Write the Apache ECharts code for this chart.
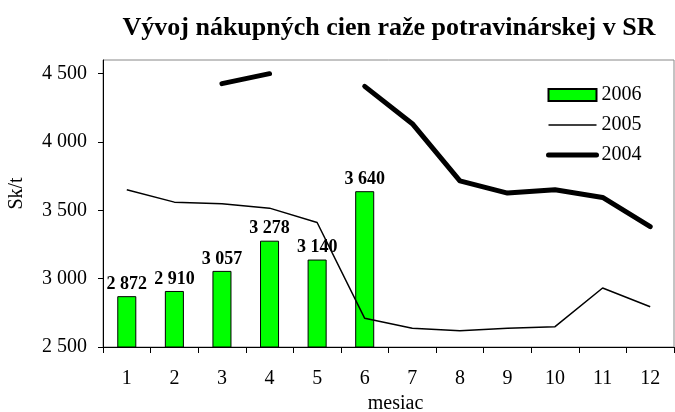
<!DOCTYPE html>
<html>
<head>
<meta charset="utf-8">
<script src="https://cdn.jsdelivr.net/npm/echarts@6/dist/echarts.min.js"></script>
<style>
  html, body { margin: 0; padding: 0; background: #fff; }
  #chart { width: 675px; height: 412px; }
</style>
</head>
<body>
<div id="chart"></div>
<script>
const months = ['1', '2', '3', '4', '5', '6', '7', '8', '9', '10', '11', '12'];
const prices2006 = [2872, 2910, 3057, 3278, 3140, 3640, null, null, null, null, null, null];
const prices2005 = [3650, 3560, 3548, 3516, 3411, 2710, 2637, 2619, 2637, 2649, 2932, 2795];
const prices2004 = [null, null, 4427, 4500, null, 4407, 4134, 3716, 3626, 3650, 3594, 3381];
const yTicks = [2500, 3000, 3500, 4000, 4500];

const serif = 'Liberation Serif, Times New Roman, serif';

// "4500" -> "4 500"
function fmt(v) {
  return String(v).replace(/\B(?=(\d{3})+(?!\d))/g, ' ');
}

const chart = echarts.init(document.getElementById('chart'));

chart.setOption({
  animation: false,
  title: {
    text: 'Vývoj nákupných cien raže potravinárskej v SR',
    left: 384,
    textAlign: 'center',
    top: 10,
    textStyle: {
      fontFamily: serif,
      fontWeight: 'bold',
      fontSize: 26,
      color: '#000',
    },
  },
  legend: {
    orient: 'vertical',
    left: 541,
    top: 80,
    itemWidth: 48,
    itemHeight: 12,
    itemGap: 10,
    data: [
      { name: '2006', icon: 'rect' },
      { name: '2005', itemStyle: { color: 'rgba(0,0,0,0)', borderWidth: 0 }, lineStyle: { width: 1.5 } },
      { name: '2004', itemStyle: { color: 'rgba(0,0,0,0)', borderWidth: 0 }, lineStyle: { width: 5, cap: 'round' } },
    ],
    textStyle: {
      fontFamily: serif,
      fontSize: 20,
      lineHeight: 20,
      color: '#000',
    },
  },
  grid: {
    left: 103,
    right: 1,
    top: 60,
    bottom: 65,
    outerBoundsMode: 'none',
    containLabel: false,
    show: true,
    borderColor: '#888',
    borderWidth: 1,
  },
  xAxis: {
    type: 'category',
    data: months,
    name: 'mesiac',
    nameLocation: 'middle',
    nameGap: 40,
    nameTextStyle: { fontFamily: serif, fontSize: 20, color: '#000', padding: [0, 0, 0, 14] },
    axisLine: { lineStyle: { color: '#000', width: 1 } },
    axisTick: { show: true, length: 6, interval: 0, lineStyle: { color: '#000' } },
    axisLabel: { fontFamily: serif, fontSize: 20, color: '#000', margin: 22 },
  },
  yAxis: {
    type: 'value',
    min: 2500,
    max: 4600,
    interval: 500,
    name: 'Sk/t',
    nameLocation: 'middle',
    nameGap: 76,
    nameRotate: 90,
    nameTextStyle: { fontFamily: serif, fontSize: 20, color: '#000', padding: [0, 0, 0, 20] },
    splitLine: { show: false },
    axisLine: { show: true, lineStyle: { color: '#000', width: 1 } },
    axisTick: { show: true, length: 5, customValues: yTicks, lineStyle: { color: '#000' } },
    axisLabel: {
      customValues: yTicks,
      fontFamily: serif,
      fontSize: 20,
      color: '#000',
      margin: 16,
      formatter: fmt,
    },
  },
  series: [
    {
      name: '2006',
      type: 'bar',
      data: prices2006,
      barWidth: '40%',
      itemStyle: { color: '#00FF00', borderColor: '#000', borderWidth: 1 },
      label: {
        show: true,
        position: 'top',
        distance: 3,
        fontFamily: serif,
        fontWeight: 'bold',
        fontSize: 18,
        color: '#000',
        formatter: p => fmt(p.value),
      },
      z: 2,
    },
    {
      name: '2005',
      type: 'line',
      data: prices2005,
      symbol: 'none',
      lineStyle: { color: '#000', width: 1.5 },
      itemStyle: { color: '#000' },
      z: 3,
    },
    {
      name: '2004',
      type: 'line',
      data: prices2004,
      symbol: 'none',
      connectNulls: false,
      lineStyle: { color: '#000', width: 5, cap: 'round', join: 'round' },
      itemStyle: { color: '#000' },
      z: 3,
    },
  ],
});
</script>
</body>
</html>
